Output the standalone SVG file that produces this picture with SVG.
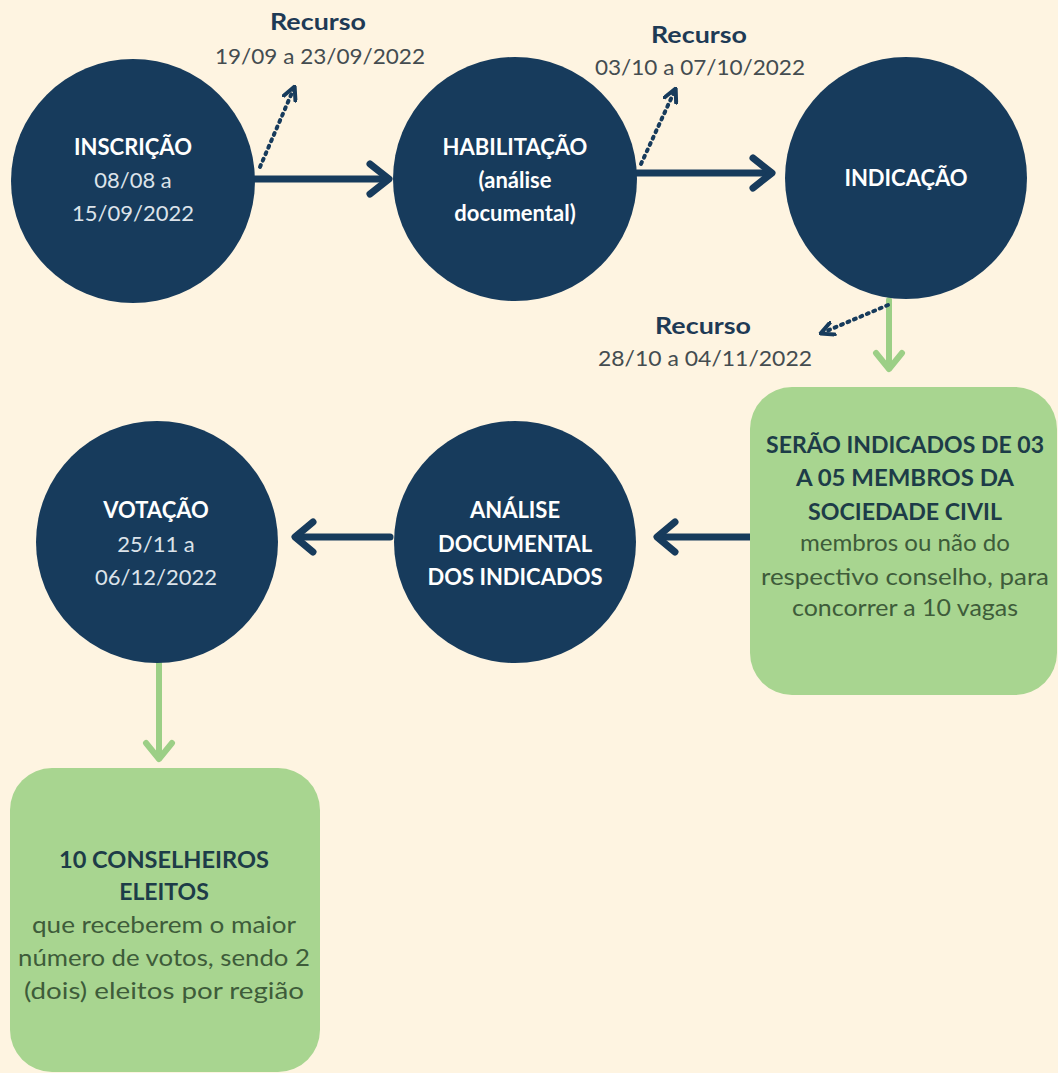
<svg xmlns="http://www.w3.org/2000/svg" width="1058" height="1073" viewBox="0 0 1058 1073">
<defs>
<style>
.bg{fill:#FEF4E1}
.circ{fill:#173B5C}
.box{fill:#A8D590}
.ct{font-family:Lato,"Liberation Sans",sans-serif;font-size:22px;fill:#FFFFFF;text-anchor:middle}
.ctb{font-weight:bold}
.cd{fill:#DCE3EA}
.rt{font-family:Lato,"Liberation Sans",sans-serif;font-size:23px;font-weight:bold;fill:#1E3A55;text-anchor:middle}
.rd{font-family:Lato,"Liberation Sans",sans-serif;font-size:21px;fill:#444C50;text-anchor:middle}
.gb{font-family:Lato,"Liberation Sans",sans-serif;font-size:23px;font-weight:bold;fill:#1D3C48;text-anchor:middle}
.gn{font-family:Lato,"Liberation Sans",sans-serif;font-size:24px;fill:#3E5C3A;text-anchor:middle}
.nav{stroke:#173B5C;stroke-width:7;fill:none;stroke-linecap:round;stroke-linejoin:round}
.grn{stroke:#9CCF86;stroke-width:6;fill:none;stroke-linecap:round;stroke-linejoin:round}
.dot{stroke:#173B5C;stroke-width:4;fill:none;stroke-dasharray:2 5;stroke-linecap:round}
</style>
<marker id="dh" viewBox="0 0 10 10" refX="8" refY="5" markerWidth="4" markerHeight="4" orient="auto" markerUnits="strokeWidth">
<path d="M1,1 L9,5 L1,9" fill="none" stroke="#173B5C" stroke-width="2.5" stroke-linejoin="round" stroke-linecap="round"/>
</marker>
</defs>
<rect class="bg" x="0" y="0" width="1058" height="1073"/>

<g id="connectors">
<line class="nav" x1="255" y1="179" x2="388" y2="179"/>
<path class="nav" d="M370,164 L389,179 L370,194"/>
<line class="nav" x1="637" y1="173" x2="771" y2="173"/>
<path class="nav" d="M753,158 L772,173 L753,188"/>
<line class="nav" x1="750" y1="537" x2="660" y2="537"/>
<path class="nav" d="M675,522 L657,537 L675,552"/>
<line class="nav" x1="390" y1="537" x2="298" y2="537"/>
<path class="nav" d="M313,522 L295,537 L313,552"/>
<line class="grn" x1="889" y1="300" x2="889" y2="368"/>
<path class="grn" d="M876,353 L889,369 L902,353"/>
<line class="grn" x1="159" y1="663" x2="159" y2="758"/>
<path class="grn" d="M146,743 L159,759 L172,743"/>
<line class="dot" x1="260" y1="167" x2="294" y2="88" marker-end="url(#dh)"/>
<line class="dot" x1="641" y1="164" x2="675" y2="90" marker-end="url(#dh)"/>
<line class="dot" x1="888" y1="305" x2="822" y2="333" marker-end="url(#dh)"/>
</g>

<g id="recurso1">
<text class="rt" x="318" y="30" textLength="96" lengthAdjust="spacingAndGlyphs">Recurso</text>
<text class="rd" x="320" y="64" textLength="210" lengthAdjust="spacingAndGlyphs">19/09 a 23/09/2022</text>
</g>
<g id="recurso2">
<text class="rt" x="699" y="43" textLength="96" lengthAdjust="spacingAndGlyphs">Recurso</text>
<text class="rd" x="700" y="75" textLength="210" lengthAdjust="spacingAndGlyphs">03/10 a 07/10/2022</text>
</g>
<g id="recurso3">
<text class="rt" x="703" y="334" textLength="96" lengthAdjust="spacingAndGlyphs">Recurso</text>
<text class="rd" x="705" y="366" textLength="214" lengthAdjust="spacingAndGlyphs">28/10 a 04/11/2022</text>
</g>

<g id="inscricao">
<circle class="circ" cx="133" cy="181" r="122"/>
<text class="ct ctb" x="133" y="155">INSCRIÇÃO</text>
<text class="ct cd" x="133" y="188">08/08 a</text>
<text class="ct cd" x="133" y="221">15/09/2022</text>
</g>
<g id="habilitacao">
<circle class="circ" cx="515" cy="179" r="122"/>
<text class="ct ctb" x="515" y="155">HABILITAÇÃO</text>
<text class="ct ctb" x="515" y="188">(análise</text>
<text class="ct ctb" x="515" y="221">documental)</text>
</g>
<g id="indicacao">
<circle class="circ" cx="906" cy="178" r="121"/>
<text class="ct ctb" x="906" y="186">INDICAÇÃO</text>
</g>
<g id="votacao">
<circle class="circ" cx="157" cy="542" r="121"/>
<text class="ct ctb" x="156" y="518">VOTAÇÃO</text>
<text class="ct cd" x="156" y="552">25/11 a</text>
<text class="ct cd" x="156" y="585">06/12/2022</text>
</g>
<g id="analise">
<circle class="circ" cx="515" cy="542" r="121"/>
<text class="ct ctb" x="515" y="518">ANÁLISE</text>
<text class="ct ctb" x="515" y="552">DOCUMENTAL</text>
<text class="ct ctb" x="515" y="585">DOS INDICADOS</text>
</g>
<g id="indicados">
<rect class="box" x="750" y="387" width="307" height="308" rx="42"/>
<text class="gb" x="905" y="453" textLength="278" lengthAdjust="spacingAndGlyphs">SERÃO INDICADOS DE 03</text>
<text class="gb" x="905" y="486" textLength="218" lengthAdjust="spacingAndGlyphs">A 05 MEMBROS DA</text>
<text class="gb" x="905" y="520" textLength="194" lengthAdjust="spacingAndGlyphs">SOCIEDADE CIVIL</text>
<text class="gn" x="905" y="551" textLength="210" lengthAdjust="spacingAndGlyphs">membros ou não do</text>
<text class="gn" x="905" y="585" textLength="288" lengthAdjust="spacingAndGlyphs">respectivo conselho, para</text>
<text class="gn" x="905" y="616" textLength="226" lengthAdjust="spacingAndGlyphs">concorrer a 10 vagas</text>
</g>
<g id="eleitos">
<rect class="box" x="10" y="768" width="310" height="304" rx="42"/>
<text class="gb" x="164" y="868" textLength="210" lengthAdjust="spacingAndGlyphs">10 CONSELHEIROS</text>
<text class="gb" x="164" y="900">ELEITOS</text>
<text class="gn" x="164" y="933" textLength="264" lengthAdjust="spacingAndGlyphs">que receberem o maior</text>
<text class="gn" x="164" y="966" textLength="292" lengthAdjust="spacingAndGlyphs">número de votos, sendo 2</text>
<text class="gn" x="164" y="999" textLength="280" lengthAdjust="spacingAndGlyphs">(dois) eleitos por região</text>
</g>
</svg>
